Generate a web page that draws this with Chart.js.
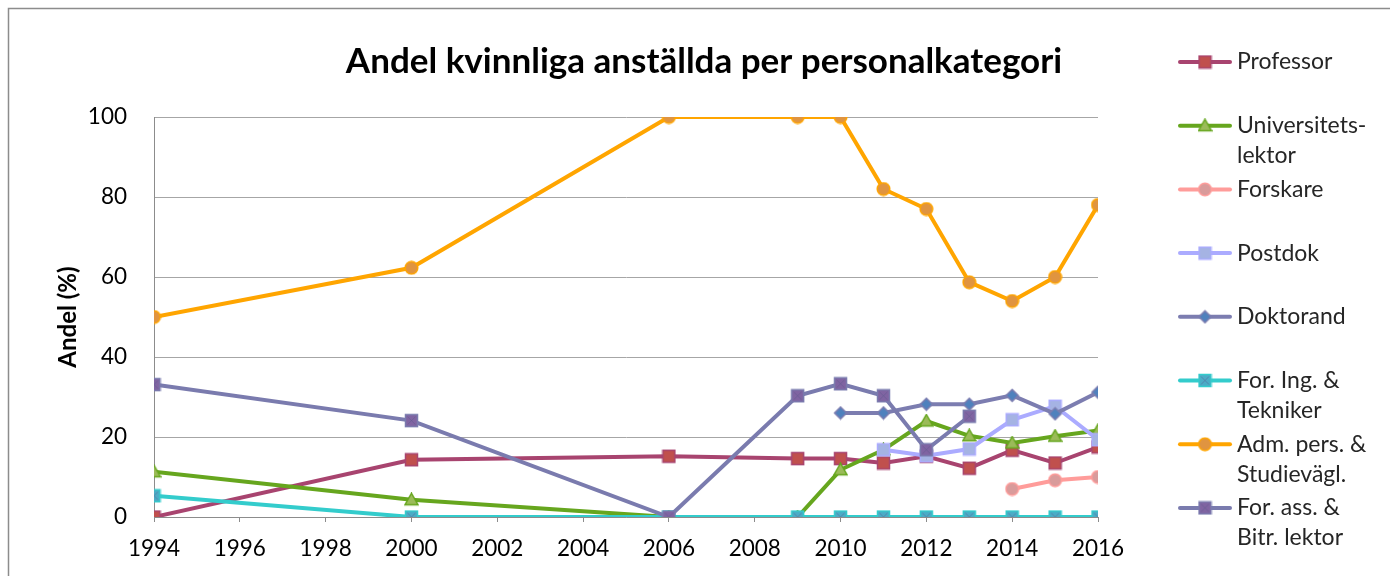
<!DOCTYPE html>
<html>
<head>
<meta charset="utf-8">
<script src="https://cdn.jsdelivr.net/npm/chart.js@4.4.1/dist/chart.umd.min.js"></script>
<style>
  body { margin: 0; background: #fff; }
  #wrap { width: 1390px; height: 576px; }
</style>
</head>
<body>
<div id="wrap"><canvas id="andelChart"></canvas></div>
<script>
// Data (percent women per category)
const years = [1994, 2000, 2006, 2009, 2010, 2011, 2012, 2013, 2014, 2015, 2016];
const xTicks = [1994, 1996, 1998, 2000, 2002, 2004, 2006, 2008, 2010, 2012, 2014, 2016];
const yTicks = [0, 20, 40, 60, 80, 100];

const professor          = [0, 14.3, 15.2, 14.6, 14.6, 13.5, 15.2, 12.2, 16.7, 13.5, 17.5];
const universitetslektor = [11.3, 4.3, 0, 0, 11.8, 16.8, 24, 20.3, 18.5, 20.2, 21.6];
const forskare           = [null, null, null, null, null, null, null, null, 7, 9.2, 10];
const postdok            = [null, null, null, null, null, 16.8, 15.3, 17, 24.3, 27.7, 19.3];
const doktorand          = [null, null, null, null, 26, 26, 28.2, 28.2, 30.4, 25.8, 31.2];
const forIngTekniker     = [5.3, 0, 0, 0, 0, 0, 0, 0, 0, 0, 0];
const admPers            = [50, 62.3, 100, 100, 100, 82, 77, 58.7, 54, 60, 78];
const forAssBitrLektor   = [33.1, 24.1, 0, 30.3, 33.3, 30.3, 16.8, 25.2, null, null, null];

const FONT = 'Lato';

// small canvas markers, used both on the chart and in the legend
function makeMarker(shape, fill, stroke) {
  const c = document.createElement('canvas');
  const s = 15;
  c.width = s; c.height = s;
  const g = c.getContext('2d');
  g.fillStyle = fill;
  g.strokeStyle = stroke;
  g.lineWidth = 1.5;
  const m = s / 2;
  g.beginPath();
  if (shape === 'square' || shape === 'crossSquare') {
    g.rect(m - 6, m - 6, 12, 12);
  } else if (shape === 'diamond') {
    g.moveTo(m, m - 6); g.lineTo(m + 6, m); g.lineTo(m, m + 6); g.lineTo(m - 6, m); g.closePath();
  } else if (shape === 'triangle') {
    g.moveTo(m, m - 6.5); g.lineTo(m + 6.5, m + 5); g.lineTo(m - 6.5, m + 5); g.closePath();
  } else {
    g.arc(m, m, 6.3, 0, Math.PI * 2);
  }
  g.fill();
  g.stroke();
  if (shape === 'crossSquare') {
    g.beginPath();
    g.strokeStyle = 'rgba(90,90,140,0.45)';
    g.lineWidth = 1;
    g.moveTo(m - 4, m - 4); g.lineTo(m + 4, m + 4);
    g.moveTo(m + 4, m - 4); g.lineTo(m - 4, m + 4);
    g.stroke();
  }
  return c;
}

function series(label, values, lineColor, marker) {
  return {
    label: label,
    data: years.map((x, i) => ({ x: x, y: values[i] })).filter(p => p.y !== null),
    borderColor: lineColor,
    backgroundColor: lineColor,
    borderWidth: 4,
    tension: 0,
    fill: false,
    pointStyle: marker,
    pointRadius: 6,
    pointHoverRadius: 6
  };
}

const datasets = [
  series('Professor', professor, '#A8446F', makeMarker('square', '#C0504D', '#A8446F')),
  series('Universitets-\nlektor', universitetslektor, '#66A61E', makeMarker('triangle', '#9BBB59', '#66A61E')),
  series('Forskare', forskare, '#FF9C9A', makeMarker('circle', '#D99B9B', '#FF9C9A')),
  series('Postdok', postdok, '#ABABFF', makeMarker('square', '#A5B3E3', '#ABABFF')),
  series('Doktorand', doktorand, '#7C7DB0', makeMarker('diamond', '#4F81BD', '#7C7DB0')),
  series('For. Ing. &\nTekniker', forIngTekniker, '#33CCCC', makeMarker('crossSquare', '#4BACC6', '#33CCCC')),
  series('Adm. pers. &\nStudievägl.', admPers, '#FFA500', makeMarker('circle', '#E09440', '#FFA500')),
  series('For. ass. &\nBitr. lektor', forAssBitrLektor, '#7A7BAE', makeMarker('crossSquare', '#8064A2', '#7A7BAE'))
];
// later series on top, like the original
datasets.forEach((ds, i) => { ds.order = -i; });

const framePlugin = {
  id: 'frameAndTitle',
  beforeDraw(chart) {
    const ctx = chart.ctx;
    ctx.save();
    ctx.strokeStyle = '#8c8c8c';
    ctx.lineWidth = 1.5;
    ctx.strokeRect(8.5, 8.5, 1400, 600);
    ctx.restore();
  },
  afterDraw(chart) {
    const ctx = chart.ctx;
    ctx.save();
    ctx.font = 'bold 35px ' + FONT;
    ctx.fillStyle = '#000';
    ctx.textAlign = 'center';
    ctx.textBaseline = 'middle';
    ctx.fillText('Andel kvinnliga anställda per personalkategori', 704, 62);
    ctx.restore();
  }
};

const sideLegend = {
  id: 'sideLegend',
  afterDraw(chart) {
    const ctx = chart.ctx;
    ctx.save();
    ctx.font = '23px ' + FONT;
    ctx.textBaseline = 'middle';
    chart.data.datasets.forEach((ds, i) => {
      const y = 62 + i * 63.7;
      ctx.strokeStyle = ds.borderColor;
      ctx.lineWidth = 4;
      ctx.lineCap = 'round';
      ctx.beginPath();
      ctx.moveTo(1180, y);
      ctx.lineTo(1230, y);
      ctx.stroke();
      const mk = ds.pointStyle;
      ctx.drawImage(mk, 1205 - mk.width / 2, y - mk.height / 2);
      ctx.fillStyle = '#262626';
      ds.label.split('\n').forEach((t, k) => ctx.fillText(t, 1237, y + k * 30));
    });
    ctx.restore();
  }
};

new Chart(document.getElementById('andelChart').getContext('2d'), {
  type: 'line',
  data: { datasets: datasets },
  plugins: [framePlugin, sideLegend],
  options: {
    responsive: true,
    maintainAspectRatio: false,
    animation: false,
    layout: { padding: { left: 0, top: 117, right: 292, bottom: 0 } },
    plugins: {
      legend: { display: false },
      title: { display: false },
      tooltip: { enabled: true }
    },
    scales: {
      x: {
        type: 'linear',
        min: 1994,
        max: 2016,
        afterBuildTicks: scale => { scale.ticks = xTicks.map(v => ({ value: v })); },
        afterFit: scale => { scale.height = 59; },
        ticks: {
          color: '#000',
          font: { family: FONT, size: 22.5 },
          padding: 13,
          maxRotation: 0,
          callback: v => String(v)
        },
        grid: { drawOnChartArea: false, drawTicks: true, tickLength: 5, color: '#8c8c8c' },
        border: { color: '#8c8c8c', width: 1 }
      },
      y: {
        min: 0,
        max: 100,
        afterBuildTicks: scale => { scale.ticks = yTicks.map(v => ({ value: v })); },
        afterFit: scale => { scale.width = 154; },
        ticks: {
          color: '#000',
          font: { family: FONT, size: 22.5 },
          padding: 27
        },
        title: {
          display: true,
          text: 'Andel (%)',
          color: '#000',
          font: { family: FONT, size: 24, weight: 'bold' },
          padding: { top: 54, bottom: 0 }
        },
        grid: { color: '#a6a6a6', lineWidth: 1, drawTicks: false },
        border: { color: '#8c8c8c', width: 1 }
      }
    }
  }
});
</script>
</body>
</html>
